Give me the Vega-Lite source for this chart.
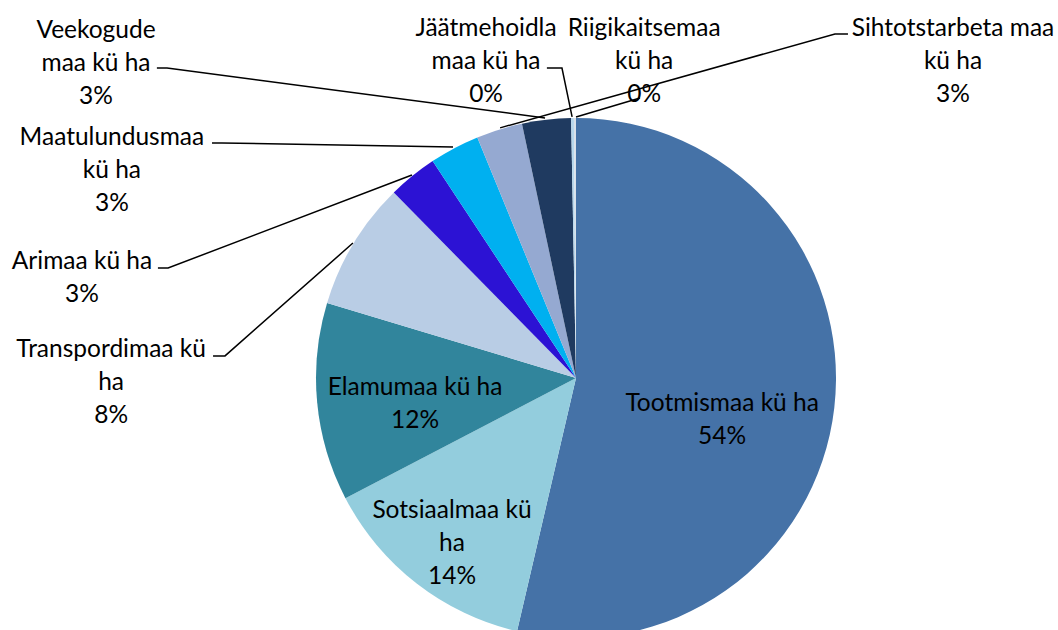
{
  "$schema": "https://vega.github.io/schema/vega-lite/v6.json",
  "width": 1058,
  "height": 630,
  "padding": 0,
  "autosize": {"type": "none"},
  "background": "white",
  "config": {"view": {"stroke": null}},
  "datasets": {
    "slices": [
      {"category": "Tootmismaa kü ha", "share": 53.6, "order": 1},
      {"category": "Sotsiaalmaa kü ha", "share": 13.7, "order": 2},
      {"category": "Elamumaa kü ha", "share": 12.3, "order": 3},
      {"category": "Transpordimaa kü ha", "share": 7.97, "order": 4},
      {"category": "Arimaa kü ha", "share": 3.06, "order": 5},
      {"category": "Maatulundusmaa kü ha", "share": 3.1, "order": 6},
      {"category": "Sihtotstarbeta maa kü ha", "share": 2.86, "order": 7},
      {"category": "Veekogude maa kü ha", "share": 3.03, "order": 8},
      {"category": "Jäätmehoidla maa kü ha", "share": 0.17, "order": 9},
      {"category": "Riigikaitsemaa kü ha", "share": 0.13, "order": 10}
    ],
    "labels": [
      {"category": "Tootmismaa kü ha", "label": "Tootmismaa kü ha\n54%", "lx": 0.562, "ly": -0.1},
      {"category": "Sotsiaalmaa kü ha", "label": "Sotsiaalmaa kü\nha\n14%", "lx": -0.477, "ly": -0.512},
      {"category": "Elamumaa kü ha", "label": "Elamumaa kü ha\n12%", "lx": -0.619, "ly": -0.038},
      {"category": "Transpordimaa kü ha", "label": "Transpordimaa kü\nha\n8%", "lx": -1.788, "ly": 0.108},
      {"category": "Arimaa kü ha", "label": "Arimaa kü ha\n3%", "lx": -1.9, "ly": 0.446},
      {"category": "Maatulundusmaa kü ha", "label": "Maatulundusmaa\nkü ha\n3%", "lx": -1.785, "ly": 0.923},
      {"category": "Sihtotstarbeta maa kü ha", "label": "Sihtotstarbeta maa\nkü ha\n3%", "lx": 1.45, "ly": 1.342},
      {"category": "Veekogude maa kü ha", "label": "Veekogude\nmaa kü ha\n3%", "lx": -1.846, "ly": 1.335},
      {"category": "Jäätmehoidla maa kü ha", "label": "Jäätmehoidla\nmaa kü ha\n0%", "lx": -0.346, "ly": 1.342},
      {"category": "Riigikaitsemaa kü ha", "label": "Riigikaitsemaa\nkü ha\n0%", "lx": 0.262, "ly": 1.342}
    ],
    "leaders": [
      {"category": "Veekogude maa kü ha", "i": 1, "lx": -1.612, "ly": 1.192},
      {"category": "Veekogude maa kü ha", "i": 2, "lx": -1.573, "ly": 1.192},
      {"category": "Veekogude maa kü ha", "i": 3, "lx": -0.119, "ly": 1.0},
      {"category": "Maatulundusmaa kü ha", "i": 1, "lx": -1.4, "ly": 0.904},
      {"category": "Maatulundusmaa kü ha", "i": 2, "lx": -1.362, "ly": 0.904},
      {"category": "Maatulundusmaa kü ha", "i": 3, "lx": -0.473, "ly": 0.888},
      {"category": "Arimaa kü ha", "i": 1, "lx": -1.608, "ly": 0.423},
      {"category": "Arimaa kü ha", "i": 2, "lx": -1.569, "ly": 0.423},
      {"category": "Arimaa kü ha", "i": 3, "lx": -0.631, "ly": 0.781},
      {"category": "Transpordimaa kü ha", "i": 1, "lx": -1.396, "ly": 0.085},
      {"category": "Transpordimaa kü ha", "i": 2, "lx": -1.35, "ly": 0.085},
      {"category": "Transpordimaa kü ha", "i": 3, "lx": -0.858, "ly": 0.519},
      {"category": "Jäätmehoidla maa kü ha", "i": 1, "lx": -0.112, "ly": 1.192},
      {"category": "Jäätmehoidla maa kü ha", "i": 2, "lx": -0.054, "ly": 1.192},
      {"category": "Jäätmehoidla maa kü ha", "i": 3, "lx": -0.015, "ly": 1.004},
      {"category": "Riigikaitsemaa kü ha", "i": 1, "lx": 0.0, "ly": 1.004},
      {"category": "Riigikaitsemaa kü ha", "i": 2, "lx": 0.246, "ly": 1.077},
      {"category": "Sihtotstarbeta maa kü ha", "i": 1, "lx": 1.046, "ly": 1.323},
      {"category": "Sihtotstarbeta maa kü ha", "i": 2, "lx": 0.996, "ly": 1.323},
      {"category": "Sihtotstarbeta maa kü ha", "i": 3, "lx": -0.292, "ly": 0.962}
    ]
  },
  "layer": [
    {
      "data": {"name": "slices"},
      "mark": {"type": "arc", "outerRadius": 260, "stroke": null},
      "encoding": {
        "x": {"datum": 0, "type": "quantitative", "scale": {"domain": [-2.2154, 1.8538], "nice": false, "zero": false}, "axis": null},
        "y": {"datum": 0, "type": "quantitative", "scale": {"domain": [-0.9692, 1.4538], "nice": false, "zero": false}, "axis": null},
        "theta": {"field": "share", "type": "quantitative", "stack": true},
        "order": {"field": "order", "type": "quantitative"},
        "color": {
          "field": "category",
          "type": "nominal",
          "legend": null,
          "scale": {
            "domain": ["Tootmismaa kü ha", "Sotsiaalmaa kü ha", "Elamumaa kü ha", "Transpordimaa kü ha", "Arimaa kü ha", "Maatulundusmaa kü ha", "Sihtotstarbeta maa kü ha", "Veekogude maa kü ha", "Jäätmehoidla maa kü ha", "Riigikaitsemaa kü ha"],
            "range": ["#4572A7", "#93CDDD", "#31859C", "#B9CDE5", "#2C12D4", "#00B0F0", "#95A9D1", "#1F3A60", "#B7D7EC", "#D9E1EA"]
          }
        }
      }
    },
    {
      "data": {"name": "leaders"},
      "mark": {"type": "line", "color": "black", "strokeWidth": 1.5, "strokeJoin": "miter"},
      "encoding": {
        "x": {"field": "lx", "type": "quantitative"},
        "y": {"field": "ly", "type": "quantitative"},
        "detail": {"field": "category", "type": "nominal"},
        "order": {"field": "i", "type": "quantitative"}
      }
    },
    {
      "data": {"name": "labels"},
      "mark": {"type": "text", "font": "Lato", "fontSize": 24.5, "color": "black", "align": "center", "baseline": "middle", "lineBreak": "\n", "lineHeight": 33},
      "encoding": {
        "x": {"field": "lx", "type": "quantitative"},
        "y": {"field": "ly", "type": "quantitative"},
        "text": {"field": "label", "type": "nominal"}
      }
    }
  ]
}
